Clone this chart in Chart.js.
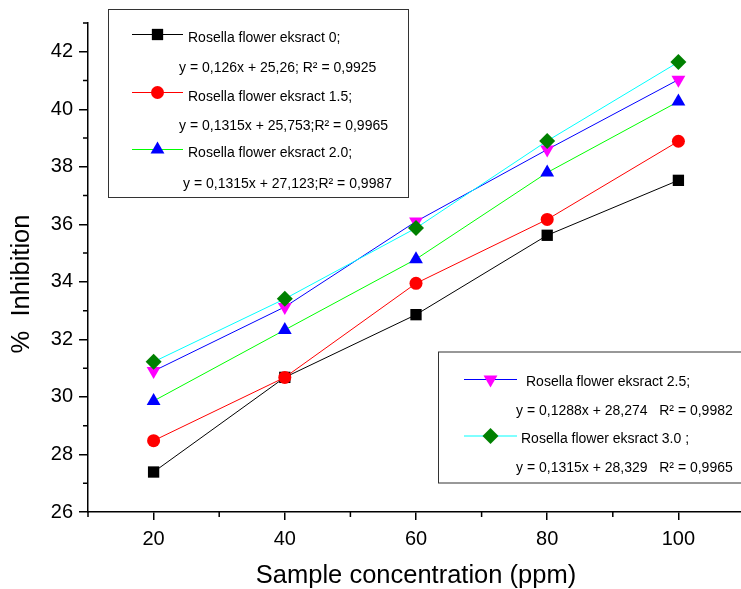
<!DOCTYPE html>
<html>
<head>
<meta charset="utf-8">
<script src="https://cdn.jsdelivr.net/npm/chart.js@4.4.1/dist/chart.umd.min.js"></script>
<style>
  html, body { margin: 0; padding: 0; background: #fff; overflow: hidden; }
  #wrap { width: 752px; height: 589px; }
</style>
</head>
<body>
<div id="wrap"><canvas id="chart" width="752" height="589"></canvas></div>
<script>
// data
const concentrations = [20, 40, 60, 80, 100];
const extract0 = [27.39, 30.68, 32.86, 35.62, 37.53];
const extract15 = [28.48, 30.68, 33.95, 36.17, 38.89];
const extract20 = [29.86, 32.33, 34.79, 37.80, 40.27];
const extract25 = [30.90, 33.13, 36.10, 38.60, 41.03];
const extract30 = [31.22, 33.41, 35.87, 38.90, 41.64];

const seriesLabels = [
  'Rosella flower eksract 0;',
  'Rosella flower eksract 1.5;',
  'Rosella flower eksract 2.0;',
  'Rosella flower eksract 2.5;',
  'Rosella flower eksract 3.0 ;'
];
const equations = [
  'y = 0,126x + 25,26; R\u00B2 = 0,9925',
  'y = 0,1315x + 25,753;R\u00B2 = 0,9965',
  'y = 0,1315x + 27,123;R\u00B2 = 0,9987',
  'y = 0,1288x + 28,274   R\u00B2 = 0,9982',
  'y = 0,1315x + 28,329   R\u00B2 = 0,9965'
];

const xTicks = [20, 40, 60, 80, 100];
const xMinor = [10, 30, 50, 70, 90, 110];
const yTicks = [26, 28, 30, 32, 34, 36, 38, 40, 42];
const yMinor = [27, 29, 31, 33, 35, 37, 39, 41, 43];
const yTitle = '%  Inhibition';

const FONT = 'Arial, "Liberation Sans", sans-serif';

function pts(ys) {
  return concentrations.map((x, i) => ({ x: x, y: ys[i] }));
}

function series(i, ys, line, fill, style, radius, rotation, order) {
  return {
    label: seriesLabels[i],
    data: pts(ys),
    borderColor: line,
    backgroundColor: fill,
    borderWidth: 1,
    pointStyle: style,
    pointRadius: radius,
    pointRotation: rotation,
    pointBackgroundColor: fill,
    pointBorderColor: fill,
    pointBorderWidth: 0,
    tension: 0,
    order: order
  };
}

const datasets = [
  series(0, extract0, '#000000', '#000000', 'rect', 8, 0, 5),
  series(1, extract15, '#ff0000', '#ff0000', 'circle', 6.5, 0, 4),
  series(2, extract20, '#00ff00', '#0000ff', 'triangle', 8, 0, 3),
  series(3, extract25, '#0000ff', '#ff00ff', 'triangle', 8, 180, 2),
  series(4, extract30, '#00ffff', '#008000', 'rectRot', 8, 0, 1)
];

// minor ticks, y title and the two boxed legends
const extras = {
  id: 'extras',
  afterDraw(chart) {
    const ctx = chart.ctx;
    const xs = chart.scales.x, ys = chart.scales.y;
    ctx.save();
    ctx.strokeStyle = '#000';
    ctx.lineWidth = 1.5;
    ctx.beginPath();
    xMinor.forEach(v => {
      const px = xs.getPixelForValue(v);
      ctx.moveTo(px, xs.top);
      ctx.lineTo(px, xs.top + 5);
    });
    yMinor.forEach(v => {
      const py = ys.getPixelForValue(v);
      ctx.moveTo(ys.right, py);
      ctx.lineTo(ys.right - 5, py);
    });
    ctx.stroke();

    // y axis title (sits a bit below the axis middle in the original)
    ctx.save();
    ctx.translate(22, 284);
    ctx.rotate(-Math.PI / 2);
    ctx.font = '25.5px ' + FONT;
    ctx.textAlign = 'center';
    ctx.textBaseline = 'middle';
    ctx.fillStyle = '#000';
    ctx.fillText(yTitle, 0, 0);
    ctx.restore();

    // legend boxes
    ctx.lineWidth = 1;
    ctx.strokeStyle = '#333';
    ctx.strokeRect(108.5, 9.5, 300, 188);
    ctx.strokeRect(438.5, 352, 320, 131);

    ctx.font = '14px ' + FONT;
    ctx.textBaseline = 'middle';
    ctx.textAlign = 'left';

    const entry = (i, lx0, lx1, my, tx, ty, ex, ey) => {
      const ds = datasets[i];
      ctx.strokeStyle = ds.borderColor;
      ctx.lineWidth = 1;
      ctx.beginPath();
      ctx.moveTo(lx0, my);
      ctx.lineTo(lx1, my);
      ctx.stroke();
      ctx.fillStyle = ds.pointBackgroundColor;
      ctx.strokeStyle = ds.pointBackgroundColor;
      Chart.helpers.drawPoint(ctx, {
        pointStyle: ds.pointStyle,
        radius: ds.pointRadius,
        rotation: ds.pointRotation,
        borderWidth: 0
      }, (lx0 + lx1) / 2, my);
      ctx.fillStyle = '#000';
      ctx.fillText(seriesLabels[i], tx, ty);
      ctx.fillText(equations[i], ex, ey);
    };
    entry(0, 132, 183, 34.5, 188, 38, 179, 68);
    entry(1, 132, 183, 92.5, 188, 97, 179, 126);
    entry(2, 132, 183, 149.5, 188, 153, 183, 184);
    entry(3, 464, 517, 379.5, 526, 382, 516, 411);
    entry(4, 464, 517, 436, 521, 439, 516, 468);
    ctx.restore();
  }
};

new Chart(document.getElementById('chart'), {
  type: 'line',
  data: { datasets: datasets },
  plugins: [extras],
  options: {
    responsive: false,
    animation: false,
    devicePixelRatio: 1,
    layout: { padding: { top: 23, right: 2, left: 0, bottom: 0 } },
    plugins: { legend: { display: false }, tooltip: { enabled: false } },
    scales: {
      x: {
        type: 'linear',
        min: 10,
        max: 110,
        afterBuildTicks: (axis) => { axis.ticks = xTicks.map(v => ({ value: v })); },
        afterFit: (axis) => { axis.height = 77; },
        border: { display: true, color: '#000', width: 1.5 },
        grid: { drawOnChartArea: false, drawTicks: true, tickLength: 8, color: '#000', lineWidth: 1.5 },
        ticks: { color: '#000', font: { family: FONT, size: 20 }, padding: 7, maxRotation: 0 },
        title: {
          display: true,
          text: 'Sample concentration (ppm)',
          color: '#000',
          font: { family: FONT, size: 25.5, lineHeight: 1 },
          padding: 0
        }
      },
      y: {
        min: 26,
        max: 43,
        afterBuildTicks: (axis) => { axis.ticks = yTicks.map(v => ({ value: v })); },
        afterFit: (axis) => { axis.width = 88; },
        border: { display: true, color: '#000', width: 1.5 },
        grid: { drawOnChartArea: false, drawTicks: true, tickLength: 9, color: '#000', lineWidth: 1.5 },
        ticks: { color: '#000', font: { family: FONT, size: 20 }, padding: 6 }
      }
    }
  }
});
</script>
</body>
</html>
